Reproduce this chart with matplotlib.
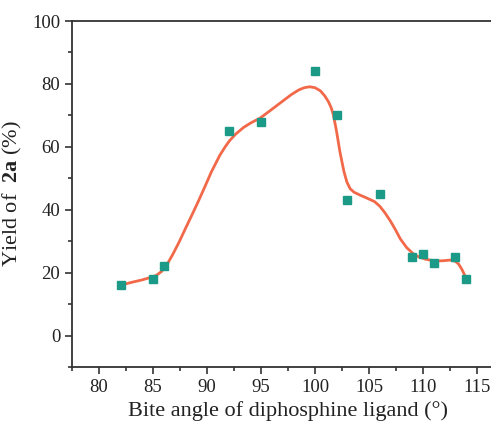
import matplotlib.pyplot as plt
from matplotlib.ticker import MultipleLocator

# measured yields
bite_angle = [82, 85, 86, 92, 95, 100, 102, 103, 106, 109, 110, 111, 113, 114]
yield_2a = [16, 18, 22, 65, 68, 84, 70, 43, 45, 25, 26, 23, 25, 18]

# smoothed trend curve
fit_x = [82.0, 83.0, 84.0, 84.7, 85.3, 85.8, 86.3, 86.8, 87.4, 88.0, 88.6,
         89.2, 89.8, 90.4, 91.2, 91.7, 92.1, 92.7, 93.4, 94.1, 94.9, 95.8,
         96.8, 97.8, 98.5, 99.0, 99.5, 100.0, 100.5, 100.9, 101.25, 101.5,
         101.7, 101.85, 102.0, 102.3, 102.68, 102.95, 103.25, 103.6, 104.2,
         104.8, 105.5, 106.0, 106.5, 107.0, 107.5, 107.9, 108.5, 109.1,
         109.6, 110.2, 110.8, 111.3, 111.9, 112.5, 113.0, 113.3, 113.6,
         113.8, 114.0]
fit_y = [16.0, 16.9, 17.7, 18.4, 19.1, 20.4, 22.6, 25.6, 29.6, 34.0, 38.3,
         42.7, 47.3, 52.0, 57.4, 60.1, 62.0, 64.2, 66.2, 67.7, 69.1, 71.4,
         74.0, 76.6, 78.1, 78.8, 79.1, 78.8, 77.8, 76.2, 74.3, 72.4,
         70.1, 67.5, 64.8, 58.5, 52.1, 48.8, 46.7, 45.6, 44.6,
         43.7, 42.6, 41.1, 38.9, 36.3, 33.3, 30.7, 27.9, 26.0,
         25.0, 24.3, 23.9, 23.7, 23.8, 24.0, 23.6, 22.7, 21.0,
         19.6, 18.0]

plt.rcParams.update({
    "font.family": "serif",
    "font.serif": ["Liberation Serif"],
    "mathtext.fontset": "custom",
    "mathtext.rm": "Liberation Serif",
    "mathtext.bf": "Liberation Serif:bold",
})

fig = plt.figure(figsize=(4.91, 4.25), dpi=100)
ax = fig.add_axes([0.1466, 0.1365, 0.880, 0.814])

ax.plot(fit_x, fit_y, color="#f2694a", lw=2.0, zorder=2,
        solid_capstyle="round", solid_joinstyle="round")
ax.plot(bite_angle, yield_2a, ls="none", marker="s", ms=5.5,
        color="#1b9a87", zorder=3)

ax.set_xlim(77.5, 117.5)
ax.set_ylim(-10, 100)
ax.xaxis.set_major_locator(MultipleLocator(5))
ax.xaxis.set_minor_locator(MultipleLocator(2.5))
ax.yaxis.set_major_locator(MultipleLocator(20))
ax.yaxis.set_minor_locator(MultipleLocator(10))

for s in ax.spines.values():
    s.set_color("#333333")
    s.set_linewidth(1.3)
ax.spines["right"].set_visible(False)

ax.tick_params(which="both", direction="out", color="#333333", width=1.2,
               labelsize=13.5, labelcolor="#222222")
ax.tick_params(which="major", length=5)
ax.tick_params(which="minor", length=3)

ax.set_xlabel("Bite angle of diphosphine ligand (°)", fontsize=16,
              color="#222222", labelpad=4)
ax.set_ylabel(r"Yield of  $\mathbf{2a}$ (%)", fontsize=16,
              color="#222222", labelpad=6)

fig.savefig("out.png", dpi=100)
